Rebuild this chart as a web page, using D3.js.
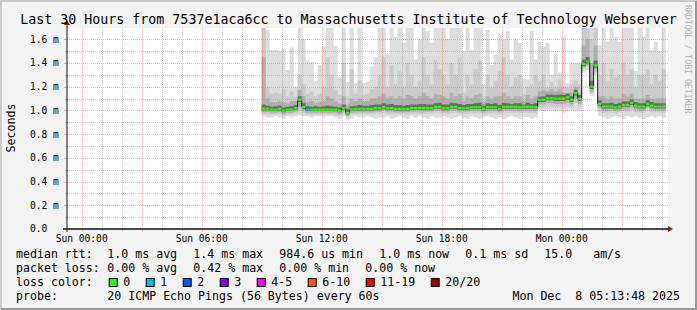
<!doctype html>
<html lang="en">
<head>
    <meta http-equiv="content-type" content="text/html; charset=utf-8" />
    <title>Last 30 Hours - smokeping</title>
    <script src="https://cdn.jsdelivr.net/npm/d3@7"></script>
    <style>
        html, body { margin: 0; padding: 0; background: #f3f3f3; }
        svg { display: block; font-family: "DejaVu Sans Mono", monospace; }
        svg text { white-space: pre; }
    </style>
</head>
<body>
    <svg id="smoke"></svg>

    <script>
        // 12 minute bins starting Sun 09:00, values in ms
        const binStart = "2025-12-07T09:00:00Z";
        const binMinutes = 12;

        const median = [
            1.015, 1.015, 1.007, 1.007, 1.013, 0.998, 1.007, 1.007, 1.02, 1.09,
            1.03, 1.007, 1.007, 1.007, 1.007, 1.007, 1.007, 1.007, 1.007, 0.998,
            1.02, 0.98, 1.007, 1.013, 1.013, 1.013, 1.013, 1.013, 1.02, 1.02,
            1.03, 1.02, 1.02, 1.013, 1.013, 1.013, 1.013, 1.02, 1.02, 1.02,
            1.02, 1.02, 1.02, 1.03, 1.03, 1.02, 1.02, 1.03, 1.03, 1.02,
            1.02, 1.02, 1.027, 1.027, 1.027, 1.013, 1.027, 1.027, 1.027, 1.013,
            1.03, 1.03, 1.03, 1.03, 1.027, 1.03, 1.03, 1.03, 1.027, 1.089,
            1.089, 1.103, 1.103, 1.1, 1.1, 1.1, 1.11, 1.09, 1.145, 1.097,
            1.392, 1.412, 1.2, 1.378, 1.055, 1.032, 1.032, 1.032, 1.025, 1.032,
            1.046, 1.046, 1.063, 1.04, 1.032, 1.032, 1.055, 1.04, 1.032, 1.032, 1.032
        ];
        const lossCount = [
            0, 0, 0, 0, 0, 0, 0, 0, 0, 0,
            0, 1, 0, 0, 0, 0, 0, 0, 0, 0,
            0, 0, 0, 0, 0, 0, 0, 0, 0, 0,
            0, 0, 0, 0, 0, 0, 0, 0, 0, 0,
            0, 0, 0, 0, 0, 0, 0, 0, 0, 0,
            0, 0, 0, 0, 0, 0, 0, 0, 0, 0,
            0, 0, 0, 0, 0, 0, 0, 0, 0, 0,
            0, 0, 0, 0, 0, 0, 0, 0, 0, 0,
            0, 0, 0, 0, 0, 0, 0, 0, 0, 0,
            0, 0, 0, 0, 0, 0, 0, 0, 0, 0, 0
        ];
        // smoke: outer band (slowest/fastest ping) to inner band
        const upper1 = [
            1.8, 1.68, 1.51, 1.51, 1.5, 1.52, 1.34, 1.53, 1.2, 1.8,
            1.6, 1.42, 1.41, 1.25, 1.38, 1.54, 1.8, 1.8, 1.54, 1.28,
            1.8, 1.24, 1.8, 1.23, 1.8, 1.23, 1.24, 1.37, 1.45, 1.8,
            1.8, 1.48, 1.8, 1.62, 1.8, 1.57, 1.8, 1.8, 1.43, 1.6,
            1.8, 1.67, 1.57, 1.8, 1.8, 1.8, 1.6, 1.8, 1.8, 1.8,
            1.5, 1.8, 1.51, 1.8, 1.8, 1.22, 1.68, 1.38, 1.47, 1.65,
            1.6, 1.67, 1.43, 1.6, 1.57, 1.27, 1.26, 1.67, 1.43, 1.58,
            1.54, 1.57, 1.3, 1.48, 1.32, 1.62, 1.23, 1.4, 1.4, 1.4,
            1.8, 1.8, 1.8, 1.8, 1.55, 1.8, 1.58, 1.8, 1.62, 1.58,
            1.8, 1.8, 1.8, 1.33, 1.8, 1.62, 1.8, 1.51, 1.58, 1.5, 1.8
        ];
        const upper2 = [
            1.8, 1.2, 1.14, 1.15, 1.14, 1.18, 1.12, 1.16, 1.12, 1.3,
            1.22, 1.14, 1.16, 1.12, 1.14, 1.2, 1.45, 1.3, 1.17, 1.13,
            1.4, 1.12, 1.35, 1.14, 1.25, 1.13, 1.14, 1.18, 1.2, 1.3,
            1.45, 1.2, 1.38, 1.22, 1.33, 1.2, 1.4, 1.3, 1.2, 1.25,
            1.45, 1.3, 1.22, 1.42, 1.35, 1.3, 1.22, 1.4, 1.3, 1.45,
            1.15, 1.3, 1.22, 1.35, 1.42, 1.12, 1.3, 1.2, 1.25, 1.33,
            1.45, 1.3, 1.2, 1.28, 1.3, 1.14, 1.2, 1.22, 1.3, 1.25,
            1.3, 1.2, 1.24, 1.2, 1.26, 1.2, 1.19, 1.22, 1.25, 1.22,
            1.8, 1.8, 1.6, 1.8, 1.3, 1.4, 1.25, 1.35, 1.28, 1.3,
            1.4, 1.3, 1.35, 1.2, 1.3, 1.3, 1.35, 1.22, 1.3, 1.25, 1.35
        ];
        const upper3 = [
            1.45, 1.1, 1.07, 1.07, 1.08, 1.07, 1.06, 1.08, 1.08, 1.17,
            1.12, 1.07, 1.08, 1.06, 1.07, 1.08, 1.12, 1.1, 1.08, 1.06,
            1.12, 1.05, 1.1, 1.08, 1.1, 1.08, 1.08, 1.1, 1.1, 1.12,
            1.14, 1.1, 1.12, 1.1, 1.12, 1.1, 1.13, 1.12, 1.1, 1.12,
            1.15, 1.12, 1.1, 1.14, 1.13, 1.12, 1.1, 1.15, 1.12, 1.14,
            1.08, 1.12, 1.1, 1.13, 1.14, 1.07, 1.12, 1.1, 1.12, 1.12,
            1.15, 1.12, 1.1, 1.12, 1.12, 1.08, 1.13, 1.1, 1.12, 1.16,
            1.17, 1.16, 1.18, 1.16, 1.18, 1.15, 1.15, 1.15, 1.2, 1.15,
            1.55, 1.6, 1.4, 1.55, 1.12, 1.12, 1.1, 1.12, 1.1, 1.1,
            1.14, 1.12, 1.14, 1.1, 1.1, 1.1, 1.13, 1.1, 1.1, 1.1, 1.1
        ];
        const upper4 = [
            1.05, 1.04, 1.03, 1.035, 1.04, 1.025, 1.03, 1.035, 1.045, 1.12,
            1.06, 1.035, 1.03, 1.035, 1.03, 1.035, 1.04, 1.035, 1.03, 1.025,
            1.05, 1.01, 1.035, 1.04, 1.045, 1.04, 1.04, 1.045, 1.05, 1.05,
            1.06, 1.05, 1.055, 1.045, 1.045, 1.04, 1.045, 1.05, 1.05, 1.055,
            1.055, 1.05, 1.05, 1.06, 1.065, 1.05, 1.05, 1.065, 1.06, 1.055,
            1.045, 1.055, 1.055, 1.06, 1.065, 1.04, 1.06, 1.055, 1.06, 1.045,
            1.065, 1.06, 1.055, 1.06, 1.06, 1.05, 1.065, 1.055, 1.06, 1.115,
            1.12, 1.135, 1.135, 1.13, 1.135, 1.13, 1.14, 1.12, 1.175, 1.13,
            1.43, 1.45, 1.25, 1.42, 1.085, 1.06, 1.06, 1.065, 1.055, 1.06,
            1.075, 1.075, 1.095, 1.07, 1.06, 1.06, 1.085, 1.07, 1.06, 1.06, 1.06
        ];
        const lower1 = [
            0.95, 0.94, 0.94, 0.95, 0.94, 0.93, 0.95, 0.94, 0.95, 0.96,
            0.95, 0.95, 0.94, 0.95, 0.95, 0.94, 0.95, 0.95, 0.94, 0.93,
            0.95, 0.92, 0.93, 0.95, 0.94, 0.94, 0.95, 0.94, 0.93, 0.94,
            0.94, 0.95, 0.93, 0.94, 0.95, 0.94, 0.93, 0.95, 0.94, 0.95,
            0.94, 0.93, 0.95, 0.94, 0.94, 0.95, 0.94, 0.93, 0.94, 0.95,
            0.94, 0.93, 0.95, 0.94, 0.93, 0.94, 0.95, 0.94, 0.93, 0.94,
            0.93, 0.94, 0.95, 0.94, 0.93, 0.94, 0.94, 0.93, 0.94, 1.0,
            0.99, 1.0, 1.0, 0.99, 1.0, 0.98, 0.99, 1.0, 0.99, 1.0,
            1.32, 1.34, 1.12, 1.3, 0.95, 0.94, 0.93, 0.94, 0.95, 0.94,
            0.93, 0.95, 0.94, 0.95, 0.94, 0.93, 0.94, 0.95, 0.94, 0.95, 0.94
        ];
        const lower2 = [
            0.97, 0.965, 0.965, 0.965, 0.97, 0.955, 0.965, 0.965, 0.975, 1.0,
            0.98, 0.965, 0.965, 0.965, 0.965, 0.965, 0.965, 0.965, 0.96, 0.955,
            0.97, 0.94, 0.965, 0.97, 0.97, 0.97, 0.97, 0.97, 0.975, 0.97,
            0.98, 0.97, 0.97, 0.97, 0.97, 0.97, 0.965, 0.975, 0.97, 0.975,
            0.97, 0.97, 0.975, 0.98, 0.98, 0.975, 0.97, 0.98, 0.98, 0.975,
            0.97, 0.97, 0.975, 0.975, 0.975, 0.965, 0.975, 0.975, 0.975, 0.965,
            0.98, 0.98, 0.98, 0.98, 0.975, 0.98, 0.98, 0.98, 0.975, 1.025,
            1.025, 1.03, 1.03, 1.025, 1.03, 1.02, 1.03, 1.025, 1.06, 1.025,
            1.345, 1.365, 1.14, 1.325, 0.99, 0.98, 0.98, 0.98, 0.975, 0.98,
            0.99, 0.99, 1.0, 0.985, 0.98, 0.98, 0.995, 0.985, 0.98, 0.98, 0.98
        ];
        const lower3 = [
            0.985, 0.985, 0.98, 0.98, 0.985, 0.97, 0.98, 0.98, 0.99, 1.03,
            1.0, 0.98, 0.98, 0.98, 0.98, 0.98, 0.98, 0.98, 0.98, 0.97,
            0.99, 0.955, 0.98, 0.985, 0.985, 0.985, 0.985, 0.985, 0.99, 0.99,
            1.0, 0.99, 0.99, 0.985, 0.985, 0.985, 0.985, 0.99, 0.99, 0.99,
            0.99, 0.99, 0.99, 1.0, 1.0, 0.99, 0.99, 1.0, 1.0, 0.99,
            0.99, 0.99, 0.995, 0.995, 0.995, 0.985, 0.995, 0.995, 0.995, 0.985,
            1.0, 1.0, 1.0, 1.0, 0.995, 1.0, 1.0, 1.0, 0.995, 1.05,
            1.05, 1.06, 1.06, 1.055, 1.055, 1.055, 1.065, 1.05, 1.1, 1.055,
            1.36, 1.38, 1.16, 1.345, 1.02, 1.0, 1.0, 1.0, 0.995, 1.0,
            1.01, 1.01, 1.025, 1.005, 1.0, 1.0, 1.02, 1.005, 1.0, 1.0, 1.0
        ];
        const lower4 = [
            1.0, 1.0, 0.995, 0.995, 1.0, 0.985, 0.995, 0.995, 1.005, 1.07,
            1.015, 0.995, 0.995, 0.995, 0.995, 0.995, 0.995, 0.995, 0.995, 0.985,
            1.005, 0.965, 0.995, 1.0, 1.0, 1.0, 1.0, 1.0, 1.005, 1.005,
            1.015, 1.005, 1.005, 1.0, 1.0, 1.0, 1.0, 1.005, 1.005, 1.005,
            1.005, 1.005, 1.005, 1.015, 1.015, 1.005, 1.005, 1.015, 1.015, 1.005,
            1.005, 1.005, 1.012, 1.012, 1.012, 1.0, 1.012, 1.012, 1.012, 1.0,
            1.015, 1.015, 1.015, 1.015, 1.012, 1.015, 1.015, 1.015, 1.012, 1.07,
            1.07, 1.085, 1.085, 1.08, 1.08, 1.08, 1.09, 1.07, 1.125, 1.08,
            1.375, 1.395, 1.18, 1.36, 1.04, 1.017, 1.017, 1.017, 1.01, 1.017,
            1.03, 1.03, 1.045, 1.025, 1.017, 1.017, 1.04, 1.025, 1.017, 1.017, 1.017
        ];

        const yTicks = [0, 0.2, 0.4, 0.6, 0.8, 1.0, 1.2, 1.4, 1.6];
        const yMinor = [0.1, 0.3, 0.5, 0.7, 0.9, 1.1, 1.3, 1.5];
        const smokeColors = ["#dddddd", "#cbcbcb", "#b0b0b0", "#6a6a6a"];

        const lossLevels = ["0", "1", "2", "3", "4-5", "6-10", "11-19", "20/20"];
        const lossMax = [0, 1, 2, 3, 5, 10, 19, 20];
        const lossColors = ["#26ff00", "#00b8ff", "#0059ff", "#7e00ff", "#ff00ff", "#ff5500", "#ff0000", "#a10000"];

        const title = "Last 30 Hours from 7537e1aca6cc to Massachusetts Institute of Technology Webserver";
        const rttStats = ["1.0 ms avg", "1.4 ms max", "984.6 us min", "1.0 ms now", "0.1 ms sd", "15.0   am/s"];
        const lossStats = ["0.00 % avg", "0.42 % max", "0.00 % min", "0.00 % now"];
        const probeText = "20 ICMP Echo Pings (56 Bytes) every 60s";
        const stamp = "Mon Dec  8 05:13:48 2025";

        renderSmoke("#smoke");

        function renderSmoke(container) {
            const W = 697, H = 310;
            const left = 67, right = 667, top = 28, bottom = 229;

            const svg = d3.select(container)
                .attr("width", W)
                .attr("height", H)
                .attr("viewBox", [0, 0, W, H]);

            const x = d3.scaleUtc()
                .domain([new Date("2025-12-06T23:16:00Z"), new Date("2025-12-08T05:16:00Z")])
                .range([left, right]);
            const y = d3.scaleLinear()
                .domain([0, 1.695])
                .range([bottom, top]);

            const t0 = new Date(binStart);
            const step = binMinutes * 60000;
            const bins = median.map((m, i) => ({
                t: new Date(+t0 + i * step),
                t1: new Date(+t0 + (i + 1) * step),
                med: m,
                loss: lossCount[i],
                up: [upper1[i], upper2[i], upper3[i], upper4[i]],
                lo: [lower1[i], lower2[i], lower3[i], lower4[i]]
            }));
            const last = bins[bins.length - 1];
            const pts = bins.concat([Object.assign({}, last, {t: last.t1})]);

            // frame
            svg.append("rect").attr("width", W).attr("height", H).attr("fill", "#f3f3f3");
            svg.append("path").attr("fill", "none").attr("stroke", "#cbcbcb").attr("stroke-width", 2)
                .attr("d", `M1,${H} L1,1 L${W},1`);
            svg.append("path").attr("fill", "none").attr("stroke", "#999999").attr("stroke-width", 2)
                .attr("d", `M${W - 1},1 L${W - 1},${H - 1} L1,${H - 1}`);

            svg.append("rect")
                .attr("x", left).attr("y", top)
                .attr("width", right - left + 1).attr("height", bottom - top)
                .attr("fill", "#ffffff");

            svg.append("defs").append("clipPath").attr("id", "canvas")
                .append("rect")
                .attr("x", left).attr("y", top)
                .attr("width", right - left).attr("height", bottom - top);

            // smoke bands
            const smoke = svg.append("g").attr("clip-path", "url(#canvas)");
            smokeColors.forEach((c, k) => {
                smoke.append("path")
                    .datum(pts)
                    .attr("fill", c)
                    .attr("d", d3.area()
                        .curve(d3.curveStepAfter)
                        .x(d => x(d.t))
                        .y0(d => y(d.lo[k]))
                        .y1(d => y(d.up[k])));
            });

            // grid
            const grid = svg.append("g").attr("stroke-width", 1);
            const gridCol = major => major ? "rgba(222,81,81,0.42)" : "rgba(143,143,143,0.45)";
            const hours = x.ticks(d3.utcHour.every(1)).filter(d => x(d) > left + 1 && x(d) < right);
            hours.forEach(d => {
                const major = d.getUTCHours() % 3 === 0;
                const xx = Math.round(x(d)) + 0.5;
                grid.append("line")
                    .attr("x1", xx).attr("x2", xx)
                    .attr("y1", top).attr("y2", bottom)
                    .attr("stroke", gridCol(major))
                    .attr("stroke-dasharray", "1,1");
                grid.append("line")
                    .attr("x1", xx).attr("x2", xx)
                    .attr("y1", bottom).attr("y2", bottom + (major ? 3 : 2))
                    .attr("stroke", gridCol(major));
            });
            yMinor.concat(yTicks.filter(v => v > 0)).forEach(v => {
                const major = yTicks.includes(v);
                const yy = Math.round(y(v)) + 0.5;
                grid.append("line")
                    .attr("x1", left).attr("x2", right + 2)
                    .attr("y1", yy).attr("y2", yy)
                    .attr("stroke", gridCol(major))
                    .attr("stroke-dasharray", "1,1");
                grid.append("line")
                    .attr("x1", left - (major ? 3 : 2)).attr("x2", left)
                    .attr("y1", yy).attr("y2", yy)
                    .attr("stroke", gridCol(major));
            });

            // median: black step line, loss coloured bars on top
            const med = svg.append("g").attr("clip-path", "url(#canvas)");
            med.append("path")
                .datum(pts)
                .attr("fill", "none")
                .attr("stroke", "#202020")
                .attr("stroke-width", 1)
                .attr("d", d3.line().curve(d3.curveStepAfter).x(d => x(d.t)).y(d => y(d.med)));

            const lossColor = n => lossColors[lossMax.findIndex(m => n <= m)];
            med.selectAll("rect")
                .data(bins)
                .join("rect")
                .attr("x", d => x(d.t))
                .attr("width", d => x(d.t1) - x(d.t))
                .attr("y", d => y(d.med) - 1.1)
                .attr("height", 2.2)
                .attr("fill", d => lossColor(d.loss));

            // axes
            const axis = svg.append("g");
            axis.append("line")
                .attr("x1", left - 4).attr("x2", right + 2)
                .attr("y1", bottom).attr("y2", bottom)
                .attr("stroke", "#101010").attr("stroke-width", 1.4);
            axis.append("line")
                .attr("x1", left).attr("x2", left)
                .attr("y1", bottom + 3).attr("y2", top - 4)
                .attr("stroke", "#101010").attr("stroke-width", 1);
            axis.append("path")
                .attr("fill", "#a01414")
                .attr("d", `M${right + 1},${bottom - 3} L${right + 6},${bottom} L${right + 1},${bottom + 3} Z`);
            axis.append("path")
                .attr("fill", "#a01414")
                .attr("d", `M${left - 3},${top - 3} L${left},${top - 8} L${left + 3},${top - 3} Z`);

            // x labels every 6 hours
            const fmt = d3.utcFormat("%a %H:%M");
            svg.append("g")
                .attr("font-size", "9.6px")
                .attr("text-anchor", "middle")
                .selectAll("text")
                .data(hours.filter(d => d.getUTCHours() % 6 === 0))
                .join("text")
                .attr("x", d => x(d))
                .attr("y", 242)
                .text(d => fmt(d));

            // y labels
            svg.append("g")
                .attr("font-size", "9.6px")
                .selectAll("text")
                .data(yTicks)
                .join("text")
                .attr("x", 30)
                .attr("y", d => y(d) + 3.4)
                .text(d => d === 0 ? "0.0" : `${d.toFixed(1)} m`);

            svg.append("text")
                .attr("font-size", "11.6px")
                .attr("text-anchor", "middle")
                .attr("transform", "translate(15,128) rotate(-90)")
                .text("Seconds");

            svg.append("text")
                .attr("font-size", "8.2px")
                .attr("fill", "#b4b4b4")
                .attr("transform", "translate(685,5) rotate(90)")
                .text("RRDTOOL / TOBI OETIKER");

            svg.append("text")
                .attr("font-size", "13.3px")
                .attr("text-anchor", "middle")
                .attr("x", 348.5)
                .attr("y", 24)
                .text(title);

            // legend
            const charW = 7.0, gap = 16, col0 = 16, col1 = 107.3;
            const leg = svg.append("g").attr("font-size", "11.6px");
            const put = (s, xx, yy) => leg.append("text")
                .attr("xml:space", "preserve")
                .attr("x", xx).attr("y", yy)
                .text(s);
            const row = (label, items, yy) => {
                put(label, col0, yy);
                let xx = col1;
                items.forEach(s => {
                    put(s, xx, yy);
                    xx += s.length * charW + gap;
                });
            };
            row("median rtt:", rttStats, 258);
            row("packet loss:", lossStats, 272);

            put("loss color:", col0, 286);
            let bx = 108.7;
            lossLevels.forEach((lab, i) => {
                leg.append("rect")
                    .attr("x", bx + 0.5).attr("y", 278.5)
                    .attr("width", 8).attr("height", 8)
                    .attr("fill", lossColors[i])
                    .attr("stroke", "#000").attr("stroke-width", 1);
                put(lab, bx + 14.6, 286);
                bx += 30 + lab.length * charW;
            });

            put("probe:", col0, 300);
            put(probeText, col1, 300);
            put(stamp, 680, 300).attr("text-anchor", "end");
        }
    </script>
</body>
</html>
